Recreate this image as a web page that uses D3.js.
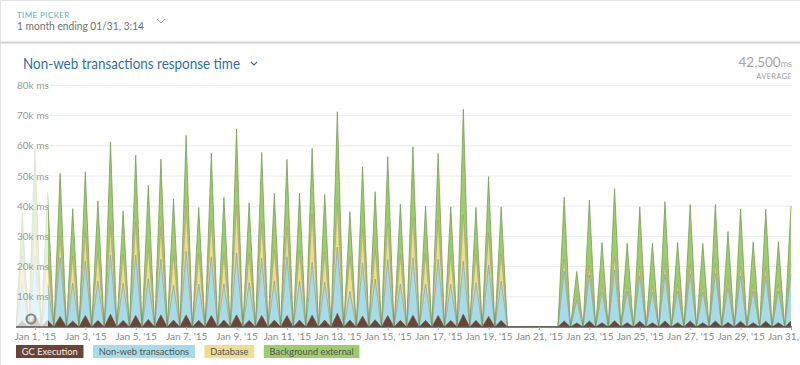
<!DOCTYPE html>
<html>
<head>
<meta charset="utf-8">
<script src="https://cdn.jsdelivr.net/npm/d3@7"></script>
<style>
  body { margin: 0; background: #fff; font-family: Lato, "Open Sans", sans-serif; }
  svg { display: block; }
</style>
</head>
<body>
<svg id="chart" width="800" height="365"></svg>
<script>
// peaks every 12h starting Dec 31 12:00, values in k ms, troughs between peaks are 0
const firstPeak = new Date(2014, 11, 31, 12);
const gcExecution = [
  2.0, 4.0, 2.3, 3.5, 2.0, 3.8, 2.2, 4.2, 2.2, 3.8, 2.5, 4.0, 2.3, 4.0, 2.2, 3.8,
  2.3, 4.0, 2.2, 3.8, 2.3, 3.8, 2.3, 3.9, 2.3, 4.5, 2.3, 3.6, 2.4, 3.8, 2.2, 3.9,
  2.2, 3.8, 2.2, 4.2, 2.2, 3.5, 2.2, 0, 0, 0, 0, 2.0, 1.3, 2.0, 1.4, 2.1,
  1.4, 1.9, 1.4, 2.0, 1.4, 2.0, 1.4, 2.0, 1.5, 1.9, 1.4, 1.9, 1.4, 2.0
];
const nonWeb = [
  12.5, 19.5, 12.0, 19.5, 12.5, 18.0, 13.0, 19.5, 12.3, 20.0, 13.5, 18.5, 11.5, 21.0, 12.0, 19.5,
  12.0, 20.5, 12.5, 19.0, 13.0, 19.5, 13.0, 17.5, 12.5, 22.0, 9.5, 17.5, 13.5, 18.5, 12.0, 19.0,
  12.0, 18.5, 12.0, 17.5, 12.5, 17.0, 13.0, 0, 0, 0, 0, 16.5, 7.7, 15.2, 10.3, 16.8,
  10.5, 15.0, 10.2, 15.5, 10.5, 15.5, 10.2, 15.8, 11.5, 15.0, 10.5, 15.0, 10.5, 15.5
];
const database = [
  9.0, 10.5, 9.5, 7.0, 9.0, 9.5, 9.5, 9.8, 9.5, 11.0, 10.0, 10.5, 10.0, 15.0, 10.0, 12.0,
  9.5, 16.0, 9.5, 11.5, 10.5, 10.0, 10.0, 16.0, 10.0, 14.5, 11.5, 11.5, 10.0, 12.0, 9.5, 13.5,
  10.0, 13.0, 9.5, 15.5, 9.5, 10.5, 9.0, 0, 0, 0, 0, 4.0, 1.4, 3.3, 2.3, 4.4,
  2.0, 3.5, 2.2, 3.5, 2.1, 3.3, 2.2, 3.2, 2.5, 3.3, 2.1, 3.1, 2.1, 3.5
];
const backgroundExternal = [
  14.1, 25.0, 20.7, 20.9, 15.7, 20.1, 17.1, 27.8, 14.5, 22.1, 21.0, 22.6, 18.6, 23.5, 15.4, 22.3,
  19.2, 25.1, 16.9, 23.5, 18.5, 22.2, 19.0, 21.8, 19.1, 30.3, 14.9, 20.5, 18.9, 22.1, 17.0, 23.3,
  15.9, 22.2, 16.1, 34.9, 15.4, 18.8, 15.6, 0, 0, 0, 0, 20.5, 8.0, 21.5, 14.0, 22.5,
  13.8, 19.4, 13.9, 20.5, 14.0, 19.8, 13.9, 19.6, 16.1, 18.9, 14.2, 19.0, 14.2, 19.0
];
const seriesNames = ["GC Execution", "Non-web transactions", "Database", "Background external"];
const seriesColors = ["#6b4436", "#a7dbe8", "#f0dc90", "#9dcc6c"];
const yTicks = [10, 20, 30, 40, 50, 60, 70, 80];

const keys = ["gc", "nonWeb", "database", "background"];
const rows = [];
for (let i = 0; i < gcExecution.length; i++) {
  const t = d3.timeHour.offset(firstPeak, i * 12);
  rows.push({ time: d3.timeHour.offset(t, -6), gc: 0, nonWeb: 0, database: 0, background: 0 });
  rows.push({
    time: t,
    gc: gcExecution[i],
    nonWeb: nonWeb[i],
    database: database[i],
    background: backgroundExternal[i],
  });
}

const svg = d3.select("#chart");
const plotLeft = 16;
const plotRight = 791;
const plotTop = 85.4;
const plotBottom = 327;

// card frame + header
svg.append("rect").attr("x", 0.5).attr("y", 0.5).attr("width", 810).attr("height", 400)
  .attr("fill", "none").attr("stroke", "#e4e4e4");
svg.append("rect").attr("x", 0).attr("y", 41.5).attr("width", 800).attr("height", 2).attr("fill", "#d2d2d2");

svg.append("text").attr("x", 17).attr("y", 18).text("TIME PICKER")
  .attr("font-size", "8px").attr("fill", "#62b0c4").attr("letter-spacing", "0.4px");
svg.append("text").attr("x", 17).attr("y", 30).text("1 month ending 01/31, 3:14")
  .attr("font-size", "11px").attr("fill", "#707070")
  .attr("textLength", 127).attr("lengthAdjust", "spacingAndGlyphs");
svg.append("path").attr("d", "M157,19 L161,23 L165,19").attr("fill", "none")
  .attr("stroke", "#aaa").attr("stroke-width", 1);

svg.append("text").attr("x", 23).attr("y", 69).text("Non-web transactions response time")
  .attr("font-size", "14.5px").attr("fill", "#2f6fa3")
  .attr("textLength", 217).attr("lengthAdjust", "spacingAndGlyphs");
svg.append("path").attr("d", "M251,62 L254,65 L257,62").attr("fill", "none")
  .attr("stroke", "#2f6fa3").attr("stroke-width", 1.2);

const avg = svg.append("text").attr("x", 792).attr("y", 67).attr("text-anchor", "end")
  .attr("fill", "#a5a5a5");
avg.append("tspan").attr("font-size", "13.5px").text("42,500");
avg.append("tspan").attr("font-size", "9px").text("ms");
svg.append("text").attr("x", 792).attr("y", 79).attr("text-anchor", "end").text("AVERAGE")
  .attr("font-size", "7px").attr("fill", "#999").attr("letter-spacing", "0.6px");

// scales
const x = d3.scaleTime()
  .domain([new Date(2014, 11, 31, 6), new Date(2015, 0, 31, 0)])
  .range([plotLeft, plotRight]);
const y = d3.scaleLinear().domain([0, 80]).range([plotBottom, plotTop]);

// grid
svg.append("g")
  .selectAll("line")
  .data(yTicks)
  .enter()
  .append("line")
  .attr("x1", 48)
  .attr("x2", 792)
  .attr("y1", (d) => y(d))
  .attr("y2", (d) => y(d))
  .attr("stroke", "#ececec");

// stacked areas
const stack = d3.stack().keys(keys);
const layers = stack(rows);

svg.append("clipPath").attr("id", "plot-clip")
  .append("rect").attr("x", plotLeft).attr("y", 0).attr("width", 792 - plotLeft).attr("height", plotBottom);

const plot = svg.append("g").attr("clip-path", "url(#plot-clip)");

const area = d3.area()
  .x((d) => x(d.data.time))
  .y0((d) => y(d[0]))
  .y1((d) => y(d[1]));
const topLine = d3.line()
  .x((d) => x(d.data.time))
  .y((d) => y(d[1]));

plot.selectAll(".layer")
  .data(layers)
  .enter()
  .append("path")
  .attr("class", "layer")
  .attr("d", area)
  .attr("fill", (d, i) => seriesColors[i]);

plot.selectAll(".edge")
  .data(layers)
  .enter()
  .append("path")
  .attr("class", "edge")
  .attr("d", topLine)
  .attr("fill", "none")
  .attr("stroke", (d, i) => d3.color(seriesColors[i]).darker(i == 0 ? 0.3 : 0.9))
  .attr("stroke-opacity", 0.7)
  .attr("stroke-width", 1);

// faded zone behind the y labels
svg.append("rect").attr("x", plotLeft).attr("y", plotTop - 1).attr("width", 48 - plotLeft)
  .attr("height", plotBottom - plotTop + 1).attr("fill", "#fff").attr("opacity", 0.72);
svg.append("circle").attr("cx", 31).attr("cy", 319).attr("r", 4.5)
  .attr("fill", "none").attr("stroke", "#8a8a8a").attr("stroke-width", 2.2);

// baseline
svg.append("line").attr("x1", plotLeft).attr("x2", 792).attr("y1", plotBottom).attr("y2", plotBottom)
  .attr("stroke", "#555").attr("stroke-width", 1.5);

// y labels
svg.append("g")
  .selectAll("text")
  .data(yTicks)
  .enter()
  .append("text")
  .attr("x", 17)
  .attr("y", (d) => y(d) + 3.5)
  .text((d) => d + "k ms")
  .attr("font-size", "10px")
  .attr("fill", "#9a9a9a");

// x axis
const xAxis = svg.append("g")
  .attr("transform", `translate(0,${plotBottom})`)
  .call(d3.axisBottom(x)
    .ticks(d3.timeDay.every(2))
    .tickSize(3)
    .tickPadding(3)
    .tickFormat(d3.timeFormat("%b %-d, '%y")));
xAxis.select(".domain").remove();
xAxis.selectAll(".tick line").attr("stroke", "#aaa");
xAxis.selectAll(".tick text")
  .attr("font-size", "10px")
  .attr("font-family", "Lato, sans-serif")
  .attr("fill", "#8a8a8a");

// legend
const legend = svg.append("g").attr("transform", "translate(16,345)");
let lx = 0;
seriesNames.forEach((name, i) => {
  const g = legend.append("g").attr("transform", `translate(${lx},0)`);
  const box = g.append("rect").attr("height", 13).attr("fill", seriesColors[i]);
  const label = g.append("text")
    .attr("x", 5.8)
    .attr("y", 9.8)
    .text(name)
    .attr("font-size", "9.3px")
    .attr("fill", i == 0 ? "#eee" : "#555");
  const w = label.node().getComputedTextLength() + 11.6;
  box.attr("width", w);
  lx += w + 9.5;
});
</script>
</body>
</html>
